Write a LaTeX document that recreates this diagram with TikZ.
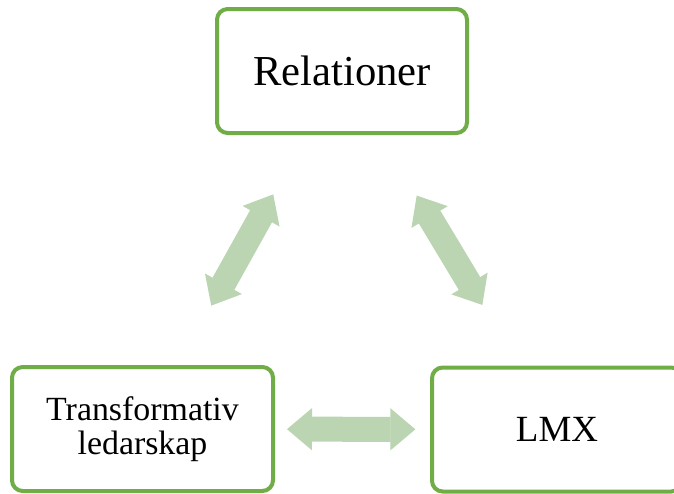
\documentclass[tikz,border=0pt]{standalone}
\usepackage{fontspec}
\setmainfont{Liberation Serif}
\usetikzlibrary{arrows.meta}
\definecolor{boxgreen}{RGB}{112,173,71}
\definecolor{arrowgreen}{RGB}{187,213,178}

\begin{document}
\begin{tikzpicture}[x=0.75pt,y=-0.75pt,
    box/.style={draw=boxgreen, line width=3pt, rounded corners=8pt, fill=white,
        minimum width=187.5pt, minimum height=93pt, align=center, inner sep=0pt},
    link/.style={arrowgreen, line width=18.75pt,
        {Triangle[width=31.5pt,length=18.75pt,line width=1pt]}-{Triangle[width=31.5pt,length=18.75pt,line width=1pt]}}]
    % Set page size
    \useasboundingbox (0,0) rectangle (674,493);
    \clip (0,0) rectangle (674,493);

    % Draw the three boxes
    \node[box, font=\fontsize{32}{38}\selectfont] (relationer) at (342,71) {Relationer};
    \node[box, minimum width=195.75pt, font=\fontsize{25.4}{25.5}\selectfont] (transformativ) at (142.5,429) {Transformativ\\ledarskap};
    \node[box, font=\fontsize{27.7}{33}\selectfont] (lmx) at (557,429.5) {LMX};

    % Draw double arrows between the boxes
    \draw[link, shorten <=51pt, shorten >=51pt] (transformativ) -- (relationer);
    \draw[link, shorten <=53pt, shorten >=53pt] (relationer) -- (lmx);
    \draw[link, shorten <=9pt, shorten >=11pt] (transformativ) -- (lmx);

\end{tikzpicture}
\end{document}
